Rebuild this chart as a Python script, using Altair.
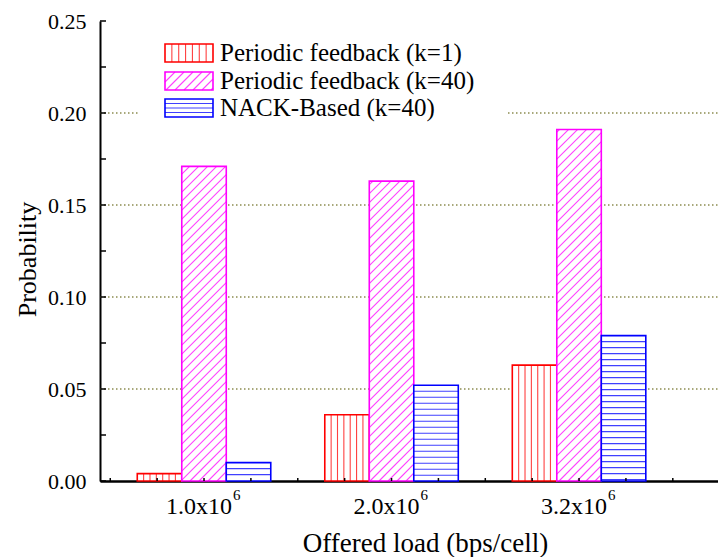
import altair as alt
import pandas as pd
import numpy as np

# ---------------- data ----------------
group_pos = [1, 2, 3]
group_labels = ["1.0x10", "2.0x10", "3.2x10"]
group_exp = ["6", "6", "6"]
series = ["Periodic feedback (k=1)", "Periodic feedback (k=40)", "NACK-Based (k=40)"]
periodic_k1 = [0.004, 0.036, 0.063]
periodic_k40 = [0.171, 0.163, 0.191]
nack_k40 = [0.010, 0.052, 0.079]
y_major = [0.0, 0.05, 0.10, 0.15, 0.20, 0.25]
y_grid = [0.05, 0.10, 0.15, 0.20]

# ---------------- layout ----------------
W, H = 618, 460
XD = [0.4453, 3.741]
YD = [0.0, 0.25]
sx = W / (XD[1] - XD[0])
sy = H / (YD[1] - YD[0])
BW = 44.5 / sx
offsets = [-1.5 * BW, -0.5 * BW, 0.5 * BW]
colors = ["#ff0000", "#ff00ff", "#0000ff"]
FONT = "Liberation Serif"

all_vals = [periodic_k1, periodic_k40, nack_k40]

bars = []
for si, vals in enumerate(all_vals):
    for g, v in zip(group_pos, vals):
        bars.append(dict(series=series[si], x=g + offsets[si], x2=g + offsets[si] + BW, y=0.0, y2=v))
bars = pd.DataFrame(bars)


def diag(u0, u1, v0, v1, step):
    segs = []
    cmin, cmax = v0 - u1, v1 - u0
    k0 = int(np.floor(cmin / step))
    k1 = int(np.ceil(cmax / step))
    for k in range(k0, k1 + 1):
        c = k * step
        ua = max(u0, v0 - c)
        ub = min(u1, v1 - c)
        if ub - ua > 0.5:
            segs.append((ua, ua + c, ub, ub + c))
    return segs


# hatch lines, in data units
hatch = {0: [], 1: [], 2: []}
for g, v in zip(group_pos, periodic_k1):
    x0 = g + offsets[0]
    for k in range(1, 7):
        xx = x0 + k * BW / 7
        hatch[0].append(dict(x=xx, x2=xx, y=0.0, y2=v))
for g, v in zip(group_pos, periodic_k40):
    x0 = g + offsets[1]
    u0 = (x0 - XD[0]) * sx
    u1 = (x0 + BW - XD[0]) * sx
    for (ua, va, ub, vb) in diag(u0, u1, 0.0, v * sy, 9.0):
        hatch[1].append(dict(x=ua / sx + XD[0], y=va / sy, x2=ub / sx + XD[0], y2=vb / sy))
for g, v in zip(group_pos, nack_k40):
    x0 = g + offsets[2]
    yy = v - 6.0 / sy
    while yy > 1.0 / sy:
        hatch[2].append(dict(x=x0, x2=x0 + BW, y=yy, y2=yy))
        yy -= 6.0 / sy

xs = alt.Scale(domain=XD, nice=False, zero=False)
ys = alt.Scale(domain=YD, nice=False)

YAX = alt.Axis(
    values=y_major, format=".2f", ticks=False, grid=False,
    domainColor="black", domainWidth=2, labelFont=FONT, labelFontSize=22,
    labelColor="black", labelPadding=14, title="Probability",
    titleFont=FONT, titleFontSize=26, titleFontWeight="normal", titleColor="black",
    titleX=-65, titleY=238, titleBaseline="alphabetic", titleAlign="center", titleAngle=270,
)
XAX = alt.Axis(
    values=group_pos, labels=False, ticks=False, grid=False,
    domainColor="black", domainWidth=2.5, title="Offered load (bps/cell)",
    titleFont=FONT, titleFontSize=27, titleFontWeight="normal", titleColor="black",
    titleX=325, titleY=70, titleBaseline="alphabetic", titleAlign="center",
)


def X(f):
    return alt.X(f, scale=xs, axis=XAX)


def Y(f):
    return alt.Y(f, scale=ys, axis=YAX)


grid = alt.Chart(pd.DataFrame({"y": y_grid})).mark_rule(
    color="#8c8c50", strokeDash=[1.5, 2.5], strokeWidth=1.5
).encode(
    y=Y("y:Q"),
    x=alt.value(0), x2=alt.value(W),
)

bar_layers = []
for si in range(3):
    b = alt.Chart(bars[bars.series == series[si]]).mark_rect(
        fill="white", stroke=colors[si], strokeWidth=1.6
    ).encode(
        x=X("x:Q"), x2="x2:Q",
        y=Y("y:Q"), y2="y2:Q",
    )
    h = alt.Chart(pd.DataFrame(hatch[si])).mark_rule(
        color=colors[si], strokeWidth=1.1, opacity=0.75
    ).encode(
        x=X("x:Q"), x2="x2:Q",
        y=Y("y:Q"), y2="y2:Q",
    )
    bar_layers += [b, h]

yt = np.round(np.arange(0, 0.2501, 0.025), 4)
yticks = alt.Chart(pd.DataFrame({"y": yt})).mark_rule(color="black", strokeWidth=1.5).encode(
    y=Y("y:Q"), x=alt.value(0), x2=alt.value(6)
)
xt = np.round(np.arange(0.5, 3.75, 0.25), 4)
xticks = alt.Chart(pd.DataFrame({"x": xt})).mark_rule(color="black", strokeWidth=1.5).encode(
    x=X("x:Q"), y=alt.value(H), y2=alt.value(H - 3)
)

lab_df = pd.DataFrame({"x": group_pos, "main": group_labels, "exp": group_exp})
xlab = alt.Chart(lab_df).mark_text(font=FONT, fontSize=24, align="right", baseline="alphabetic",
                                   dx=28, color="black").encode(
    x=X("x:Q"), y=alt.value(H + 33), text="main:N")
xexp = alt.Chart(lab_df).mark_text(font=FONT, fontSize=15, align="left", baseline="alphabetic",
                                   dx=29, color="black").encode(
    x=X("x:Q"), y=alt.value(H + 19), text="exp:N")

# legend (pixel layout)
LX0, LX1 = 65, 113
row_c = [32, 60, 87]
SH = 18
leg_box = alt.Chart(pd.DataFrame({"a": [0]})).mark_rect(fill="white").encode(
    x=alt.value(40), x2=alt.value(407), y=alt.value(14), y2=alt.value(103))
leg_rects = pd.DataFrame({
    "series": series,
    "x": [LX0] * 3, "x2": [LX1] * 3,
    "y": [c - SH / 2 for c in row_c], "y2": [c + SH / 2 for c in row_c],
    "tx": [LX0 + 55] * 3, "ty": row_c,
})
leg_layers = [leg_box]
for si in range(3):
    r = leg_rects.iloc[[si]]
    y0, y1 = r.y.iloc[0], r.y2.iloc[0]
    lines = []
    if si == 0:
        for k in range(1, 7):
            xx = LX0 + k * (LX1 - LX0) / 7
            lines.append(dict(x=xx, x2=xx, y=y0, y2=y1))
    elif si == 1:
        for (ua, va, ub, vb) in diag(LX0, LX1, -y1, -y0, 9.0):
            lines.append(dict(x=ua, y=-va, x2=ub, y2=-vb))
    else:
        for k in range(1, 4):
            yy = y0 + k * (y1 - y0) / 4
            lines.append(dict(x=LX0, x2=LX1, y=yy, y2=yy))
    leg_layers.append(alt.Chart(pd.DataFrame(lines)).mark_rule(
        color=colors[si], strokeWidth=1.1, opacity=0.75).encode(
        x=alt.X("x:Q", scale=None), x2="x2:Q", y=alt.Y("y:Q", scale=None), y2="y2:Q"))
    leg_layers.append(alt.Chart(r).mark_rect(fill=None, stroke=colors[si], strokeWidth=1.6).encode(
        x=alt.X("x:Q", scale=None), x2="x2:Q", y=alt.Y("y:Q", scale=None), y2="y2:Q"))
leg_text = alt.Chart(leg_rects).mark_text(font=FONT, fontSize=25, align="left", baseline="middle",
                                          color="black").encode(
    x=alt.X("tx:Q", scale=None), y=alt.Y("ty:Q", scale=None), text="series:N")
leg_layers.append(leg_text)

chart = alt.layer(
    grid, *bar_layers, yticks, xticks, xlab, xexp, *leg_layers
).properties(
    width=W, height=H,
    autosize=alt.AutoSizeParams(type="none"),
    padding={"left": 100, "top": 21, "right": 0, "bottom": 76},
    background="white",
).configure_view(stroke=None)

chart.save("out.html", embed_options={"renderer": "svg", "actions": False})
